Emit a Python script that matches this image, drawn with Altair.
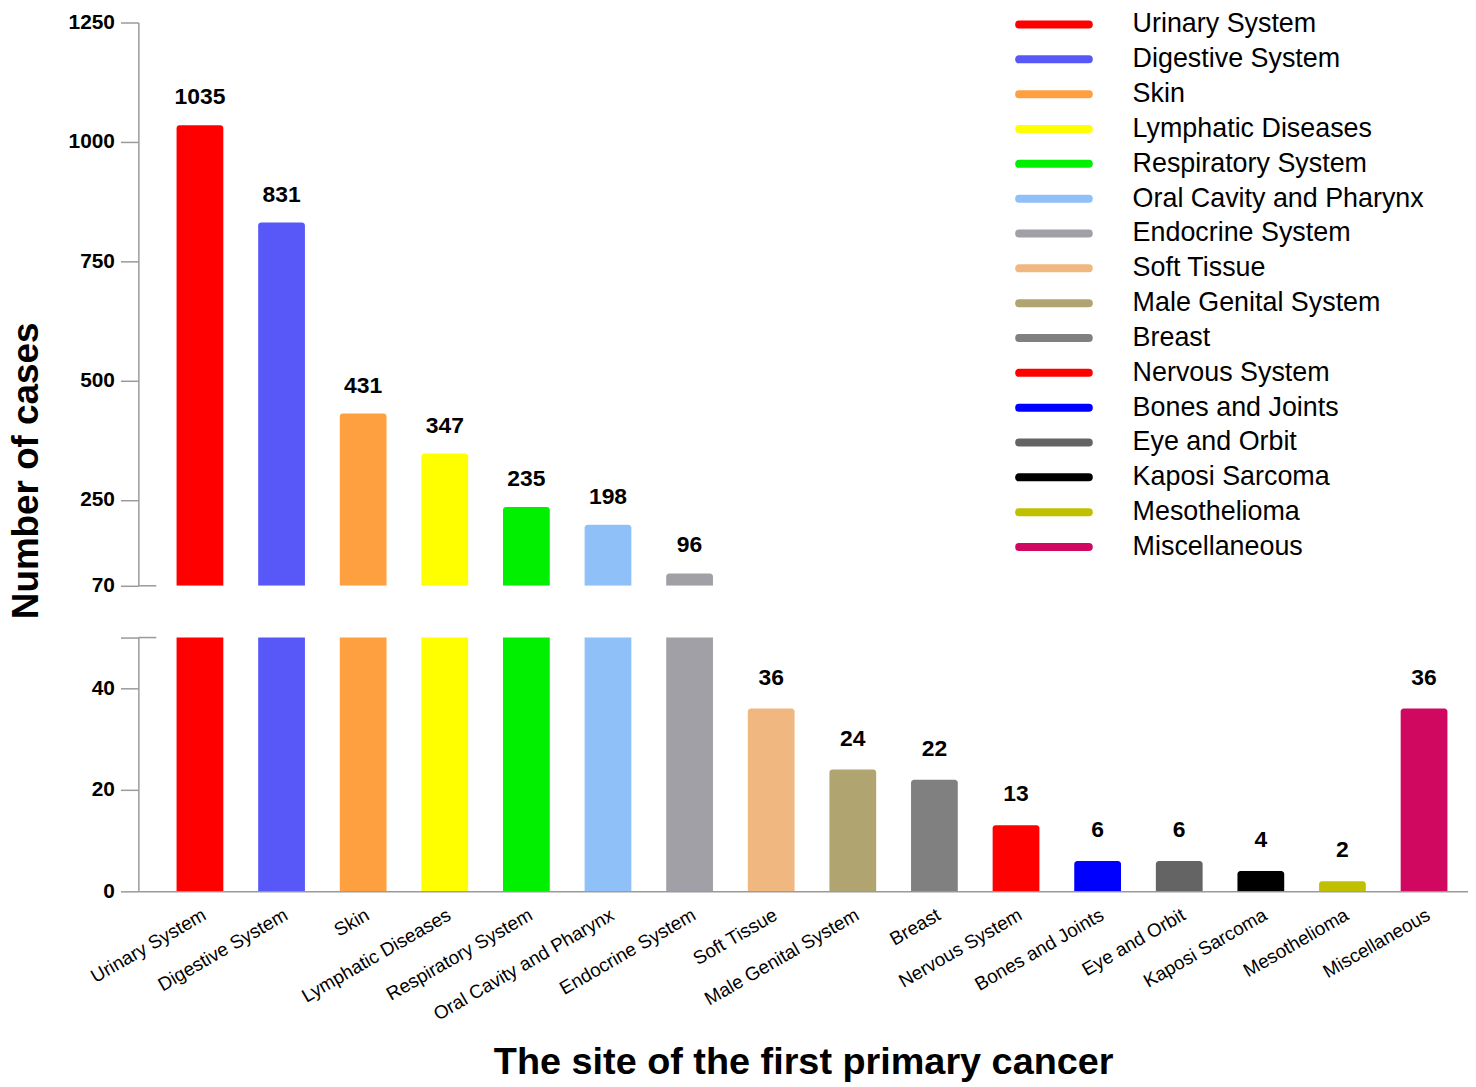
import altair as alt
import pandas as pd

categories = ["Urinary System", "Digestive System", "Skin", "Lymphatic  Diseases",
              "Respiratory System", "Oral Cavity and Pharynx", "Endocrine System",
              "Soft Tissue", "Male Genital System", "Breast", "Nervous System",
              "Bones and Joints", "Eye and Orbit", "Kaposi Sarcoma", "Mesothelioma",
              "Miscellaneous"]
values = [1035, 831, 431, 347, 235, 198, 96, 36, 24, 22, 13, 6, 6, 4, 2, 36]
colors = ["#FF0000", "#5858F8", "#FFA040", "#FFFF00", "#00F000", "#90C0F8",
          "#A0A0A6", "#F0B880", "#B0A470", "#808080", "#FF0000", "#0000FF",
          "#646464", "#000000", "#C0C000", "#D00860"]
legend_labels = ["Urinary System", "Digestive System", "Skin", "Lymphatic  Diseases",
                 "Respiratory System", "Oral Cavity and Pharynx", "Endocrine System",
                 "Soft Tissue", "Male Genital System", "Breast", " Nervous System",
                 "Bones and Joints", "Eye and Orbit", "Kaposi Sarcoma", "Mesothelioma",
                 "Miscellaneous"]
upper_ticks = [70, 250, 500, 750, 1000, 1250]
lower_ticks = [0, 20, 40, 50]

df = pd.DataFrame({"cat": categories, "value": values})
leg = pd.DataFrame({"cat": categories, "label": legend_labels})

FONT = "Liberation Sans"
GRAY = "#9a9a9a"
W = 1336

xscale = alt.Scale(domain=categories, paddingInner=0.427, paddingOuter=0.36, align=0.65)
cscale = alt.Scale(domain=categories, range=colors)
legscale = alt.Scale(type="point", range=[2, 527], padding=0)

# ---------- upper panel ----------
base_u = alt.Chart(df)
bars_u = base_u.mark_bar(clip=True, cornerRadiusTopLeft=3, cornerRadiusTopRight=3).encode(
    x=alt.X("cat:N", scale=xscale, axis=None, sort=categories),
    y=alt.Y("value:Q", scale=alt.Scale(domain=[70, 1250], nice=False, zero=False),
            axis=alt.Axis(values=upper_ticks, format="d", title="Number of cases", grid=False,
                          tickSize=18, tickColor=GRAY, domainColor=GRAY, domainWidth=1.5,
                          tickWidth=1.5, labelFontSize=21, labelFontWeight="bold",
                          labelColor="black", labelPadding=6, labelFont=FONT,
                          titleFont=FONT, titleFontSize=37, titleFontWeight="bold",
                          titleColor="black", titleAngle=270, titleX=-130, titleY=450,
                          titleAlign="center", titleBaseline="top")),
    y2=alt.datum(70),
    color=alt.Color("cat:N", scale=cscale, legend=None),
)
labels_u = base_u.transform_filter("datum.value > 70").mark_text(
    font=FONT, fontSize=23, fontWeight="bold", color="black", baseline="alphabetic", dy=-21
).encode(
    x=alt.X("cat:N", scale=xscale, sort=categories),
    y=alt.Y("value:Q"),
    text=alt.Text("value:Q", format="d"),
)
cross_u = alt.Chart(pd.DataFrame({"v": [70]})).mark_rule(color=GRAY, strokeWidth=1.5).encode(
    y=alt.Y("v:Q"), x=alt.value(0), x2=alt.value(18)
)
legend_rules = alt.Chart(leg).mark_rule(strokeWidth=8, strokeCap="round").encode(
    y=alt.Y("label:N", sort=legend_labels, axis=None, scale=legscale),
    x=alt.value(885), x2=alt.value(955),
    color=alt.Color("cat:N", scale=cscale, legend=None),
)
legend_text = alt.Chart(leg).mark_text(
    font=FONT, fontSize=27, color="black", align="left", baseline="middle"
).encode(
    y=alt.Y("label:N", sort=legend_labels, axis=None, scale=legscale),
    x=alt.value(999),
    text="label:N",
)
upper = alt.layer(
    alt.layer(bars_u, labels_u, cross_u),
    alt.layer(legend_rules, legend_text),
).resolve_scale(y="independent").properties(width=W, height=566)

# ---------- lower panel ----------
base_l = alt.Chart(df)
bars_l = base_l.mark_bar(clip=True, cornerRadiusTopLeft=3, cornerRadiusTopRight=3).encode(
    x=alt.X("cat:N", scale=xscale, sort=categories,
            axis=alt.Axis(title="The site of the first primary cancer", ticks=False,
                          domainColor=GRAY, domainWidth=1.5, labelAngle=330,
                          labelAlign="right", labelBaseline="top", labelPadding=14,
                          labelFontSize=19, labelFont=FONT, labelColor="black",
                          labelLimit=400, titleFont=FONT, titleFontSize=38,
                          titleFontWeight="bold", titleColor="black", titleY=172,
                          titleBaseline="middle")),
    y=alt.Y("value:Q", scale=alt.Scale(domain=[0, 50], nice=False),
            axis=alt.Axis(values=lower_ticks, title=None, grid=False,
                          labelExpr="datum.value == 50 ? '' : datum.label",
                          tickSize=18, tickColor=GRAY, domainColor=GRAY, domainWidth=1.5,
                          tickWidth=1.5, labelFontSize=21, labelFontWeight="bold",
                          labelColor="black", labelPadding=6, labelFont=FONT)),
    y2=alt.datum(0),
    color=alt.Color("cat:N", scale=cscale, legend=None),
)
labels_l = base_l.transform_filter("datum.value < 50").mark_text(
    font=FONT, fontSize=23, fontWeight="bold", color="black", baseline="alphabetic", dy=-24
).encode(
    x=alt.X("cat:N", scale=xscale, sort=categories),
    y=alt.Y("value:Q"),
    text=alt.Text("value:Q", format="d"),
)
cross_l = alt.Chart(pd.DataFrame({"v": [50]})).mark_rule(color=GRAY, strokeWidth=1.5).encode(
    y=alt.Y("v:Q"), x=alt.value(0), x2=alt.value(18)
)
lower = alt.layer(bars_l, labels_l, cross_l).properties(width=W, height=255)

chart = alt.vconcat(upper, lower, spacing=52, bounds="flush").properties(
    padding={"left": 0, "top": 0, "right": 0, "bottom": 0},
    background="white",
).configure_view(strokeWidth=0)

chart.save("out.html", embed_options={"renderer": "svg", "actions": False})
